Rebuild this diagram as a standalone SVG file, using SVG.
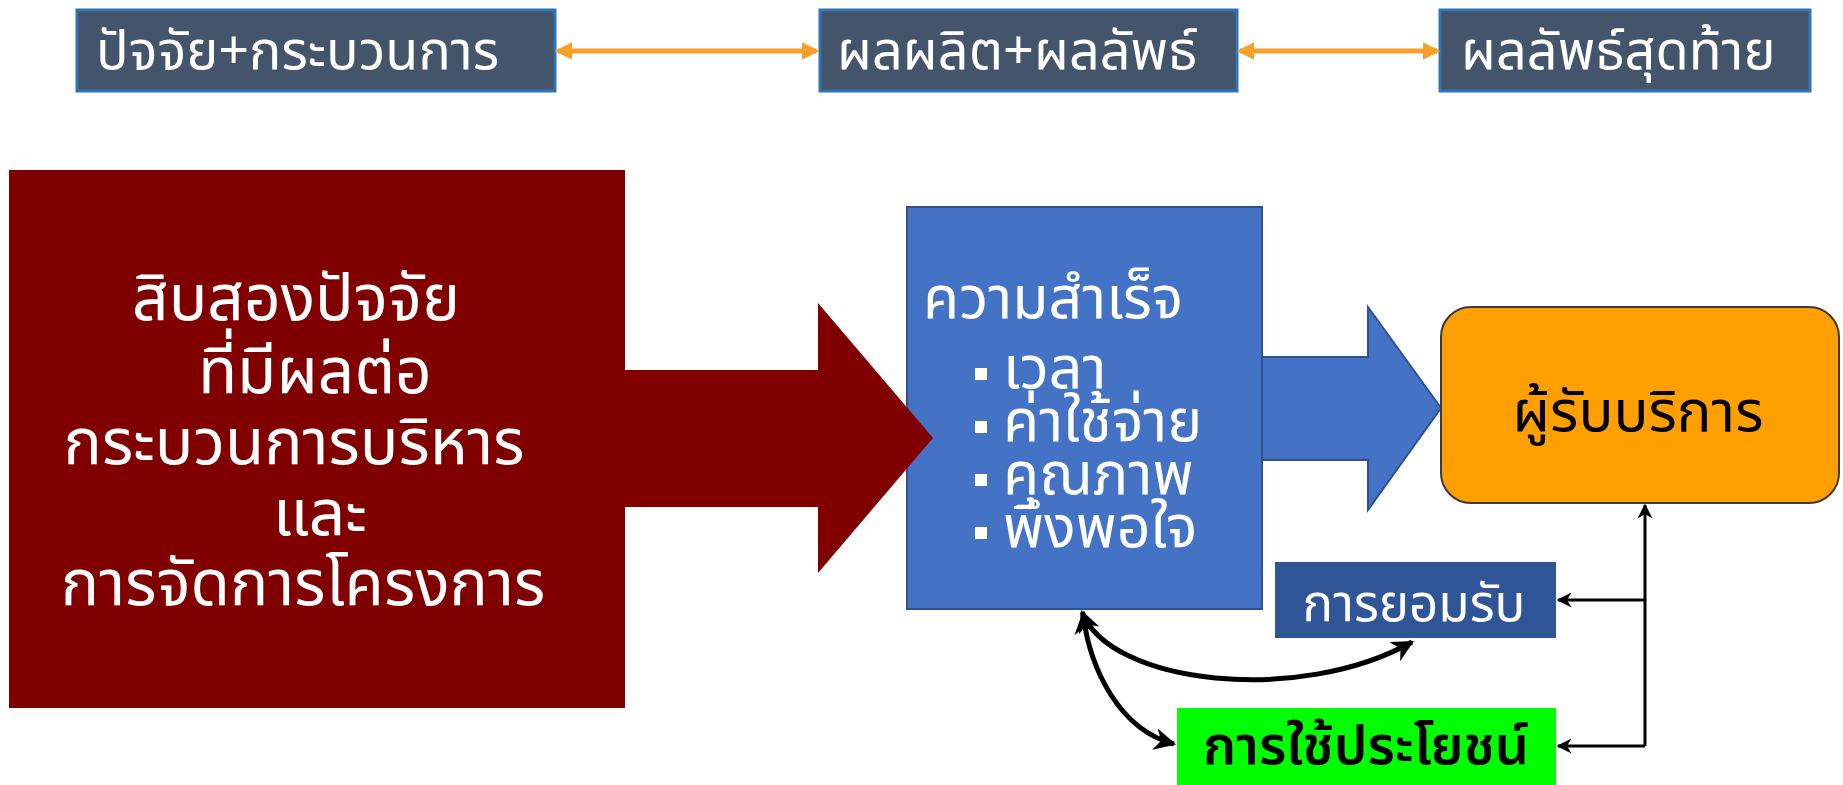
<svg xmlns="http://www.w3.org/2000/svg" width="1843" height="785" viewBox="0 0 1843 785">
<defs>
<style>
text{font-family:"Noto Sans Thai","Noto Sans","DejaVu Sans",sans-serif;}
.top rect{fill:#44546a;stroke:#2e75b6;stroke-width:3;}
.top text{fill:#fff;font-size:54px;}
.orange{stroke:#f5a02a;stroke-width:5;fill:none;}
.blk{stroke:#000;stroke-width:3;fill:none;}
.curve{stroke:#000;stroke-width:5;fill:none;}
.big{fill:#fff;font-size:64px;text-anchor:middle;}
.bl{fill:#fff;font-size:59px;}
</style>
<marker id="oa" viewBox="0 0 10 10" refX="8" refY="5" markerWidth="3.6" markerHeight="3.6" orient="auto-start-reverse"><path d="M0,0L10,5L0,10Z" fill="#f5a02a"/></marker>
<marker id="ka" viewBox="0 0 10 10" refX="9" refY="5" markerWidth="5" markerHeight="5" orient="auto-start-reverse"><path d="M0,0L10,5L0,10L3,5Z" fill="#000"/></marker>
<marker id="kc" viewBox="0 0 10 10" refX="9" refY="5" markerWidth="4.4" markerHeight="4.4" orient="auto-start-reverse"><path d="M0,0L10,5L0,10L3,5Z" fill="#000"/></marker>
</defs>
<rect width="1843" height="785" fill="#fff"/>
<g id="top1" class="top"><rect x="77" y="10" width="478" height="81"/><text x="96" y="69">ปัจจัย+กระบวนการ</text></g>
<g id="top2" class="top"><rect x="820" y="10" width="417" height="81"/><text x="837" y="69">ผลผลิต+ผลลัพธ์</text></g>
<g id="top3" class="top"><rect x="1440" y="10" width="370" height="81"/><text x="1461" y="69">ผลลัพธ์สุดท้าย</text></g>
<g id="success">
<rect x="907" y="207" width="355" height="402" fill="#4472c4" stroke="#2f528f" stroke-width="2"/>
<path d="M1262,357H1368V307L1441,408L1368,510V460H1262Z" fill="#4472c4" stroke="#2f528f" stroke-width="2"/>
<text class="bl" x="923" y="318" font-size="65">ความสำเร็จ</text>
<rect x="975" y="368" width="12" height="12" fill="#fff"/><text class="bl" x="1003" y="388">เวลา</text>
<rect x="975" y="421" width="12" height="12" fill="#fff"/><text class="bl" x="1003" y="441">ค่าใช้จ่าย</text>
<rect x="975" y="474" width="12" height="12" fill="#fff"/><text class="bl" x="1003" y="494">คุณภาพ</text>
<rect x="975" y="527" width="12" height="12" fill="#fff"/><text class="bl" x="1003" y="547">พึงพอใจ</text>
</g>
<g id="factors">
<path d="M9,170H625V370H818V303L933,438L818,573V507H625V708H9Z" fill="#800000"/>
<text class="big" x="296" y="320">สิบสองปัจจัย</text>
<text class="big" x="315" y="393">ที่มีผลต่อ</text>
<text class="big" x="294" y="464">กระบวนการบริหาร</text>
<text class="big" x="320" y="535">และ</text>
<text class="big" x="303" y="605">การจัดการโครงการ</text>
</g>
<g id="client">
<rect x="1441" y="307" width="398" height="196" rx="30" fill="#ff9f00" stroke="#3a3a3a" stroke-width="2"/>
<text x="1638" y="431" font-size="58" text-anchor="middle" fill="#000">ผู้รับบริการ</text>
</g>
<g id="accept">
<rect x="1275" y="562" width="281" height="76" fill="#2f5597"/>
<text x="1414" y="621" font-size="51" text-anchor="middle" fill="#fff">การยอมรับ</text>
</g>
<g id="benefit">
<rect x="1177" y="708" width="379" height="77" fill="#00ff00"/>
<text x="1366" y="764" font-size="54" font-weight="600" text-anchor="middle" fill="#000">การใช้ประโยชน์</text>
</g>
<g id="connectors">
<line class="orange" x1="558" y1="51" x2="816" y2="51" marker-start="url(#oa)" marker-end="url(#oa)"/>
<line class="orange" x1="1240" y1="51" x2="1437" y2="51" marker-start="url(#oa)" marker-end="url(#oa)"/>
<path class="blk" d="M1645,746V505" marker-end="url(#ka)"/>
<path class="blk" d="M1645,600H1558" marker-end="url(#ka)"/>
<path class="blk" d="M1645,746H1558" marker-end="url(#ka)"/>
<path class="curve" d="M1082,612C1110,685 1300,705 1412,642" marker-start="url(#kc)" marker-end="url(#kc)"/>
<path class="curve" d="M1083,614C1090,670 1120,730 1174,744" marker-start="url(#kc)" marker-end="url(#kc)"/>
</g>
</svg>
